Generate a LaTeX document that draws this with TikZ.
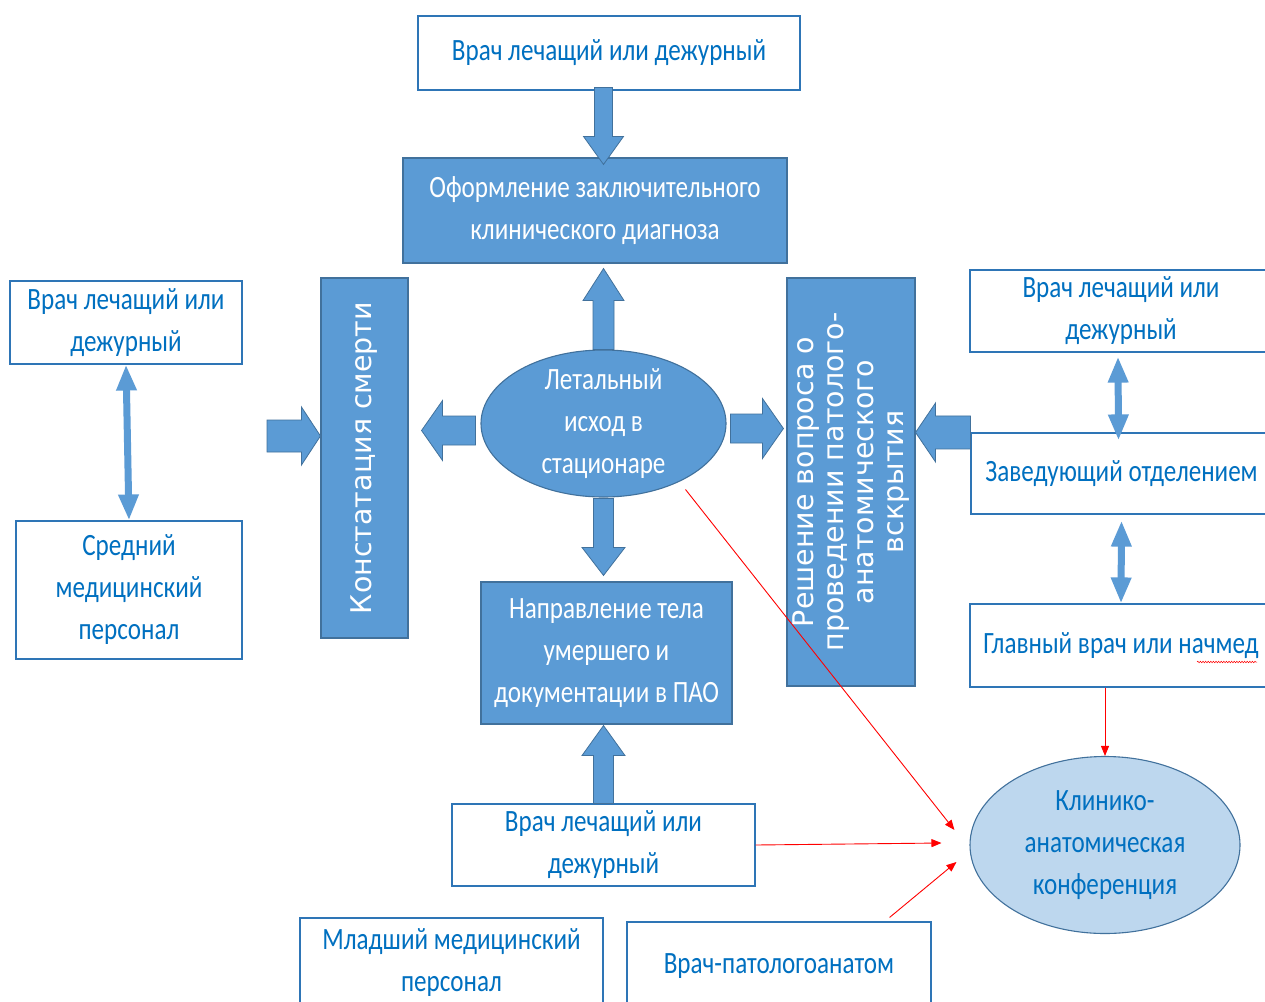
\documentclass[tikz,border=0pt]{standalone}
\usepackage{fontspec}
\setmainfont[FakeStretch=0.81]{Carlito}
\newfontfamily\rotfont{DejaVu Sans}
\usetikzlibrary{calc,arrows.meta,shapes.geometric,decorations.pathmorphing}
\definecolor{fillblue}{HTML}{5B9BD5}
\definecolor{edgeblue}{HTML}{41719C}
\definecolor{lineblue}{HTML}{2E75B6}
\definecolor{txtblue}{HTML}{0070C0}
\definecolor{paleblue}{HTML}{BDD7EE}
\newcommand\blockarrow[5]{%
  \coordinate (baH) at ($(#2)!#5!(#1)$);
  \filldraw[fill=fillblue, draw=edgeblue, line width=0.8pt, line join=miter]
    ($(#1)!#3!90:(#2)$) -- ($(baH)!#3!90:(#2)$) -- ($(baH)!#4!90:(#2)$) -- (#2)
    -- ($(baH)!#4!-90:(#2)$) -- ($(baH)!#3!-90:(#2)$) -- ($(#1)!#3!-90:(#2)$) -- cycle;
}
\tikzset{
  txt/.style={align=center, inner sep=0pt, font=\fontsize{31}{42}\selectfont},
  wbox/.style={txt, rectangle, draw=lineblue, line width=1.1pt, fill=white, text=txtblue},
  bbox/.style={txt, rectangle, draw=edgeblue, line width=1.1pt, fill=fillblue, text=white},
  rbox/.style={bbox, font=\rotfont\fontsize{28.5}{30}\selectfont},
  oval/.style={ellipse, draw=edgeblue, line width=1.1pt, inner sep=0pt},
  redarr/.style={draw=red, line width=0.9pt, -{Triangle[length=10pt,width=8pt]}},
  dblarr/.style={draw=fillblue, line width=7pt, {Triangle[length=26pt,width=19pt]}-{Triangle[length=26pt,width=19pt]}},
}
\begin{document}
\begin{tikzpicture}[x=1pt,y=-1pt]
\fill[white] (0,0) rectangle (1265,1001);
\useasboundingbox (0,0) rectangle (1265,1001);
\clip (0,0) rectangle (1265,1001);

% nodes
\node[wbox, minimum width=382pt, minimum height=74pt] (t1) at (609,53) {Врач лечащий или дежурный};
\node[bbox, minimum width=384pt, minimum height=105pt] (oform) at (595,210.5) {Оформление заключительного\\клинического диагноза};
\node[oval, fill=fillblue, minimum width=245pt, minimum height=147pt] (ell) at (603.5,423.5) {};
\node[txt, text=white] (ellt) at (ell.center) {Летальный\\исход в\\стационаре};
\node[rbox, rotate=90, minimum width=360pt, minimum height=87pt] (konst) at (364.5,458) {Констатация смерти};
\node[rbox, rotate=90, minimum width=408pt, minimum height=128pt] (resh) at (851,482) {Решение вопроса о\\проведении патолого-\\анатомического\\вскрытия};
\node[bbox, minimum width=251pt, minimum height=142pt] (napr) at (606.5,653) {Направление тела\\умершего и\\документации в ПАО};
\node[wbox, minimum width=303pt, minimum height=82pt] (vb) at (603.5,845) {Врач лечащий или\\дежурный};
\node[wbox, minimum width=303pt, minimum height=90pt] (mlad) at (451.5,963) {Младший медицинский\\персонал};
\node[wbox, minimum width=304pt, minimum height=88pt] (pat) at (779,966) {Врач-патологоанатом};
\node[wbox, minimum width=232pt, minimum height=83pt] (l1) at (126,322.5) {Врач лечащий или\\дежурный};
\node[wbox, minimum width=226pt, minimum height=138pt] (l2) at (129,590) {Средний\\медицинский\\персонал};
\node[wbox, minimum width=302pt, minimum height=82pt] (r1) at (1121,311) {Врач лечащий или\\дежурный};
\node[wbox, minimum width=301pt, minimum height=81pt] (r2) at (1121.5,473.5) {Заведующий отделением};
\node[wbox, minimum width=302pt, minimum height=83pt] (r3) at (1121,645.5) {Главный врач или начмед};
\node[oval, fill=paleblue, minimum width=270pt, minimum height=177pt] (kk) at (1105,845) {};
\node[txt, text=txtblue] (kkt) at (kk.center) {Клинико-\\анатомическая\\конференция};

% spell-check underline
\draw[red, line width=0.5pt, decorate, decoration={snake, amplitude=0.8pt, segment length=2.6pt}] (1197,662) -- (1257,662);

% block arrows
\coordinate (a1s) at ($(t1.south -| ell.north)+(0,-3)$);
\coordinate (a1e) at ($(oform.north -| ell.north)+(0,7)$);
\coordinate (a2s) at (ell.north);
\coordinate (a2e) at ($(oform.south -| ell.north)+(0,5)$);
\coordinate (a3s) at ($(ell.west)+(-5,7)$);
\coordinate (a3e) at ($(a3s -| konst.south)+(13,0)$);
\coordinate (a4s) at ($(ell.east)+(4,5)$);
\coordinate (a4e) at ($(a4s -| resh.north)+(-3,0)$);
\coordinate (a5s) at (267,436);
\coordinate (a5e) at (a5s -| konst.north);
\coordinate (a6s) at (r2.north west);
\coordinate (a6e) at (a6s -| resh.south);
\coordinate (a7s) at ($(ell.south)+(0,1)$);
\coordinate (a7e) at ($(napr.north -| ell.south)+(0,-6)$);
\coordinate (a8s) at (vb.north);
\coordinate (a8e) at ($(napr.south -| vb.north)+(0,1)$);
\blockarrow{a1s}{a1e}{9pt}{20pt}{28pt}
\blockarrow{a2s}{a2e}{10.5pt}{20.5pt}{32pt}
\blockarrow{a3s}{a3e}{14.5pt}{30pt}{21pt}
\blockarrow{a4s}{a4e}{14.5pt}{30pt}{21pt}
\blockarrow{a5s}{a5e}{16pt}{29pt}{19pt}
\blockarrow{a6s}{a6e}{16.5pt}{29.5pt}{20pt}
\blockarrow{a7s}{a7e}{10pt}{21.5pt}{28pt}
\blockarrow{a8s}{a8e}{10pt}{21.5pt}{30pt}

% double arrows
\coordinate (d2s) at ($(r1.south)+(-3,4)$);
\coordinate (d2e) at ($(r2.north)+(-3,8)$);
\coordinate (d3s) at ($(r2.south)+(0,6)$);
\draw[dblarr] (l1.south) -- (l2.north);
\draw[dblarr] (d2s) -- (d2e);
\draw[dblarr] (d3s) -- (r3.north);

% red arrows
\coordinate (e1) at ($(ell.center)+(82,66)$);
\coordinate (k1) at ($(kk.west)+(-15,-15)$);
\coordinate (k2) at ($(kk.west)+(-28,-2)$);
\coordinate (p1) at ($(pat.north east)+(-42,-4)$);
\coordinate (k3) at ($(kk.west)+(-13,17)$);
\draw[redarr] (e1) -- (k1);
\draw[redarr] (vb.east) -- (k2);
\draw[redarr] (p1) -- (k3);
\draw[redarr] (kk.north |- r3.south) -- (kk.north);
\end{tikzpicture}
\end{document}
